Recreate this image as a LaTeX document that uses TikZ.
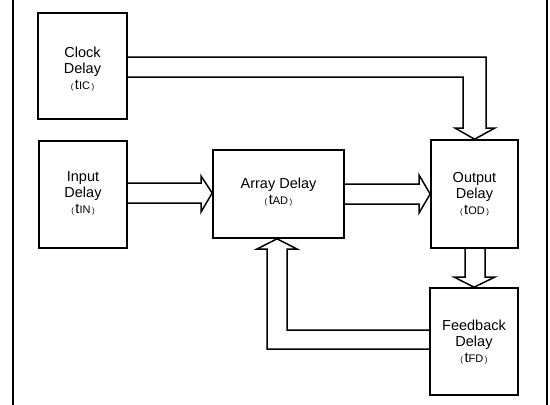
\documentclass[tikz,border=0pt]{standalone}
\usepackage{fontspec}
\setmainfont{Liberation Sans}
\begin{document}
\begin{tikzpicture}[x=1pt,y=-1pt,
  blk/.style={draw,line width=1.6pt,inner sep=0pt},
  lbl/.style={align=center,font=\fontsize{14.5}{16}\selectfont,inner sep=0pt},
  pipe/.style={draw,line width=1.5pt,line join=miter},
  frame/.style={line width=2pt}]
\newcommand{\sub}[1]{{\fontsize{8}{8}\selectfont(}\kern1.5pt t{\fontsize{11}{11}\selectfont #1}\kern1.5pt{\fontsize{8}{8}\selectfont)}}
\useasboundingbox (0,0) rectangle (550,405);
% side rules of the surrounding frame
\draw[frame] (13,0) coordinate (fl1) -- (13,405) coordinate (fl2);
\draw[frame] (547,0) coordinate (fr1) -- (547,405) coordinate (fr2);

% blocks
\node[blk,minimum width=89pt,minimum height=106pt] (clock) at (82.5,66) {};
\node[blk,minimum width=88pt,minimum height=107pt] (input) at (83,194.5) {};
\node[blk,minimum width=131pt,minimum height=88pt] (array) at (278.5,194) {};
\node[blk,minimum width=87pt,minimum height=108pt] (output) at (474.5,194) {};
\node[blk,minimum width=88pt,minimum height=107pt] (feedback) at (474,341.5) {};

% block captions
\node[lbl] (clocktxt) at (82.5,69) {Clock\\Delay\\\sub{IC}};
\node[lbl] (inputtxt) at (83,193) {Input\\Delay\\\sub{IN}};
\node[lbl] (arraytxt) at (278.5,192) {Array Delay\\\sub{AD}};
\node[lbl] (outputtxt) at (474.5,194) {Output\\Delay\\\sub{OD}};
\node[lbl] (feedbacktxt) at (474,342) {Feedback\\Delay\\\sub{FD}};

% clock -> output
\draw[pipe] (clock.east |- 0,57) -- (486,57) -- (486,128) -- (495,128)
  -- (output.north) -- (455,128) -- (463,128) -- (463,77) -- (clock.east |- 0,77);
% input -> array
\draw[pipe] (input.east |- 0,183) -- (201,183) -- (201,176)
  -- (array.west |- 0,193) -- (201,212) -- (201,203) -- (input.east |- 0,203);
% array -> output
\draw[pipe] (array.east |- 0,184) -- (419,184) -- (419,175)
  -- (output.west |- 0,194) -- (419,213) -- (419,204) -- (array.east |- 0,204);
% output -> feedback
\draw[pipe] (output.south -| 465,0) -- (465,277) -- (454,277)
  -- (feedback.north) -- (495,277) -- (485,277) -- (output.south -| 485,0);
% feedback -> array
\draw[pipe] (feedback.west |- 0,330) -- (287,330) -- (287,249) -- (297,249)
  -- (array.south -| 277,0) -- (257,249) -- (267,249) -- (267,349)
  -- (feedback.west |- 0,349);
\end{tikzpicture}
\end{document}
